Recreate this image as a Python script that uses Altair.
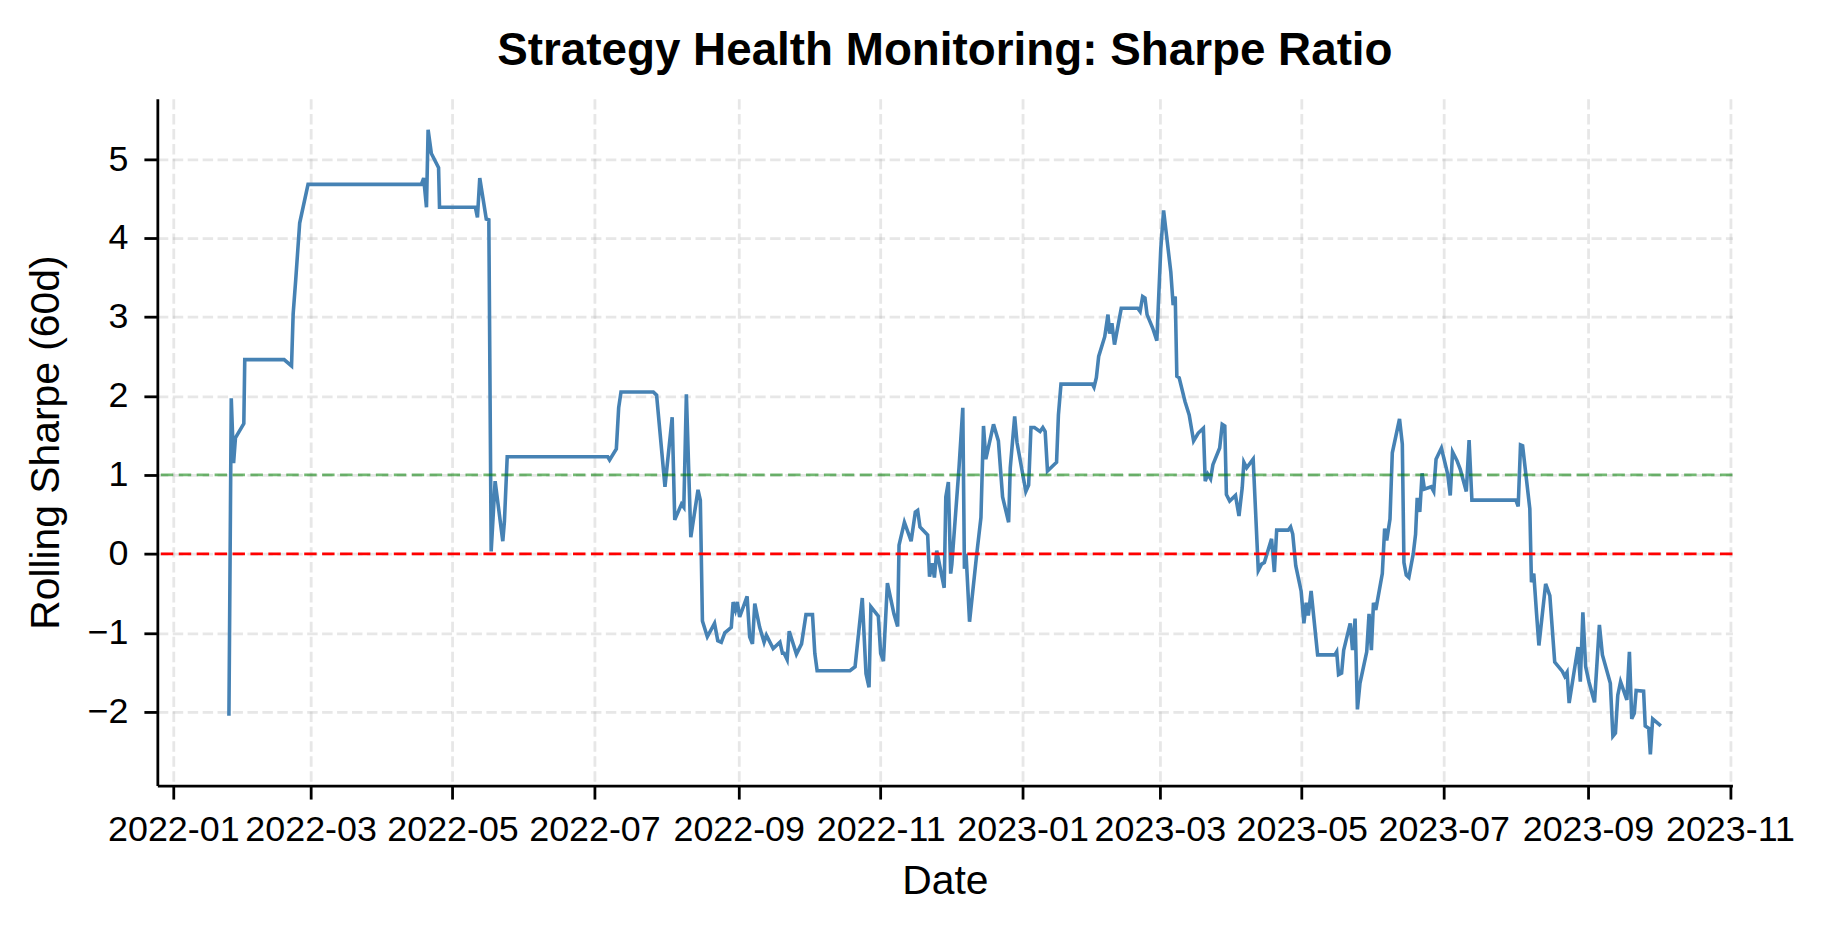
import altair as alt
import pandas as pd

# ---- data (days since 2022-01-01, rolling Sharpe) ----
day_offset = [
    23.9, 24.9, 25.9, 26.7, 30.3, 30.7, 47.6, 50.8, 51.5, 52.6, 54.3, 57.9,
    106.6, 107.6, 108.8, 109.5, 110.9, 114.0, 114.4,
    129.8, 130.7, 131.7, 134.5, 135.6, 136.6, 138.3, 141.6, 142.3, 143.5,
    186.7, 187.5, 190.4, 191.4, 192.4, 206.3, 207.7, 211.3, 214.4, 215.5,
    218.4, 219.4, 220.5, 222.4, 225.5, 226.5, 227.4, 229.5, 232.6,
    234.0, 235.5, 237.0, 239.8, 240.6, 241.6, 242.4, 243.4, 246.6, 247.7,
    248.9, 249.9, 252.0, 253.9, 254.9, 257.8, 260.7, 261.8, 262.5, 263.8,
    264.7, 267.8, 270.0, 271.9, 274.7, 275.7, 276.7, 290.8, 293.0, 296.1,
    297.7, 299.0, 299.8, 303.0, 304.0, 305.2, 306.9, 309.7, 311.3, 311.9,
    314.2, 317.1, 318.9, 319.9, 320.9, 324.2, 325.0, 326.1, 327.1, 328.1,
    331.3, 332.0, 333.1, 334.1, 334.6, 337.7, 339.3, 340.0, 340.7, 342.2,
    345.3, 347.1, 348.2, 349.2, 352.5, 354.6, 356.4, 359.0, 359.7,
    361.6, 362.6, 366.4, 367.6, 368.6, 370.1, 372.5, 373.7, 374.7, 375.7,
    379.6, 380.4, 381.5, 395.0, 395.7, 396.7, 397.7, 400.3, 401.7, 402.4,
    403.4, 404.5, 407.4, 414.5, 415.5, 416.6, 417.6, 418.5, 420.9, 422.7,
    423.4, 424.4, 425.6, 428.7, 429.7, 430.6, 431.3, 432.3, 434.8, 436.6,
    438.5, 440.5, 442.7, 443.5, 444.6, 445.8, 446.8, 449.7, 450.8, 451.9,
    452.6, 454.0, 456.5, 458.0, 459.4, 460.1, 461.3, 464.1, 466.3, 467.7,
    468.9, 472.0, 473.2, 474.2, 479.2, 480.2, 481.1, 482.4, 484.7, 485.9,
    486.9, 487.8, 489.0,
    491.8, 499.2, 500.0, 500.8, 502.1, 503.0, 505.8, 506.8, 507.9, 508.9,
    510.0, 512.9, 513.9, 514.9, 515.8, 516.8, 519.6, 520.6, 521.5, 522.9,
    523.9, 527.0, 528.2, 528.9, 529.9, 531.0, 532.9, 533.9, 534.6, 535.7,
    536.7, 537.7, 540.6, 541.7, 542.7, 545.0, 547.7, 548.8, 549.8, 551.7,
    553.1, 555.7, 556.9, 558.1, 577.0, 578.0, 579.0, 579.9, 583.0, 583.7,
    584.7, 585.9, 586.9, 589.8, 591.6, 593.7, 597.0, 598.0, 599.0, 599.9,
    603.7, 604.7, 605.8, 607.0, 608.4, 610.8, 612.9, 614.2, 617.6, 618.7,
    619.8, 620.8, 622.0, 624.7, 625.8, 626.8, 627.9, 628.7, 631.9, 632.6,
    634.1, 634.8, 635.8, 639.3,
]
sharpe = [
    -2.05, 1.97, 1.15, 1.47, 1.65, 2.46, 2.46, 2.38, 3.04, 3.47, 4.19, 4.68,
    4.68, 4.76, 4.39, 5.37, 5.07, 4.89, 4.39,
    4.39, 4.26, 4.76, 4.24, 4.23, 0.03, 0.92, 0.16, 0.41, 1.23,
    1.23, 1.19, 1.33, 1.85, 2.05, 2.05, 2.01, 0.85, 1.73, 0.43,
    0.63, 0.59, 2.02, 0.21, 0.81, 0.68, -0.85, -1.05, -0.88,
    -1.10, -1.12, -1.00, -0.93, -0.61, -0.71, -0.61, -0.80, -0.54, -1.05,
    -1.14, -0.63, -0.93, -1.12, -1.03, -1.20, -1.12, -1.26, -1.26, -1.34,
    -0.98, -1.27, -1.14, -0.77, -0.77, -1.26, -1.48, -1.48, -1.43, -0.56,
    -1.52, -1.69, -0.67, -0.79, -1.26, -1.36, -0.37, -0.76, -0.92, 0.11,
    0.40, 0.16, 0.53, 0.55, 0.34, 0.24, -0.29, -0.12, -0.30, 0.04,
    -0.43, 0.72, 0.91, -0.25, -0.13, 1.10, 1.85, -0.19, 0.00, -0.86,
    0.00, 0.46, 1.62, 1.20, 1.64, 1.43, 0.72, 0.40, 1.09,
    1.74, 1.41, 0.79, 0.87, 1.60, 1.60, 1.55, 1.60, 1.55, 1.05,
    1.16, 1.76, 2.15, 2.15, 2.11, 2.23, 2.50, 2.75, 3.03, 2.79,
    2.92, 2.65, 3.11, 3.11, 3.07, 3.26, 3.24, 3.03, 2.86, 2.70,
    3.19, 3.87, 4.35, 3.57, 3.15, 3.26, 2.25, 2.23, 1.93, 1.76,
    1.43, 1.53, 1.59, 0.92, 1.01, 0.95, 1.13, 1.34, 1.64, 1.62,
    0.75, 0.67, 0.74, 0.48, 0.84, 1.16, 1.09, 1.20, -0.21, -0.13,
    -0.11, 0.19, -0.23, 0.30, 0.30, 0.34, 0.25, -0.15, -0.47, -0.88,
    -0.62, -0.78, -0.47,
    -1.28, -1.28, -1.24, -1.53, -1.51, -1.22, -0.88, -1.22, -0.82, -1.97,
    -1.64, -1.24, -0.76, -1.22, -0.62, -0.71, -0.25, 0.32, 0.17, 0.44,
    1.28, 1.71, 1.39, -0.11, -0.27, -0.30, 0.00, 0.25, 0.71, 0.53,
    1.02, 0.82, 0.85, 0.79, 1.20, 1.34, 1.01, 0.74, 1.29, 1.18,
    1.07, 0.79, 1.44, 0.68, 0.68, 0.60, 1.38, 1.37, 0.57, -0.36,
    -0.25, -0.76, -1.16, -0.38, -0.53, -1.37, -1.49, -1.55, -1.50, -1.89,
    -1.18, -1.62, -0.74, -1.43, -1.62, -1.88, -0.90, -1.28, -1.64, -2.31,
    -2.27, -1.79, -1.62, -1.85, -1.24, -2.09, -2.02, -1.73, -1.74, -2.18,
    -2.21, -2.54, -2.09, -2.18,
]

ref_levels = [0, 1]
ref_colors = ["#ff0000", "#008000"]
ref_opacity = [1.0, 0.55]

tick_labels = ["2022-01", "2022-03", "2022-05", "2022-07", "2022-09", "2022-11",
               "2023-01", "2023-03", "2023-05", "2023-07", "2023-09", "2023-11"]
y_ticks = [-2, -1, 0, 1, 2, 3, 4, 5]

FONT = "Liberation Sans"

BASE = pd.Timestamp("2022-01-01")
df = pd.DataFrame({
    "date": [BASE + pd.Timedelta(days=d) for d in day_offset],
    "sharpe": sharpe,
})
ref_df = pd.DataFrame({"level": ref_levels, "color": ref_colors, "op": ref_opacity})

# matplotlib-like 5% margins
span = max(day_offset) - min(day_offset)
t0 = BASE + pd.Timedelta(days=min(day_offset) - 0.05 * span)
t1 = BASE + pd.Timedelta(days=max(day_offset) + 0.05 * span)
def dt(t):
    return alt.DateTime(year=t.year, month=t.month, date=t.day, hours=t.hour, minutes=t.minute)
yspan = max(sharpe) - min(sharpe)
ydom = [min(sharpe) - 0.05 * yspan, max(sharpe) + 0.05 * yspan]

tick_vals = [alt.DateTime(year=int(s[:4]), month=int(s[5:]), date=1) for s in tick_labels]

x_enc = alt.X(
    "date:T", title="Date",
    scale=alt.Scale(domain=[dt(t0), dt(t1)]),
    axis=alt.Axis(values=tick_vals, format="%Y-%m", labelOverlap=False, labelFlush=False,
                  labelPadding=14, titlePadding=14),
)
y_enc = alt.Y(
    "sharpe:Q", title="Rolling Sharpe (60d)",
    scale=alt.Scale(domain=ydom, nice=False, zero=False),
    axis=alt.Axis(values=y_ticks, format="d", labelPadding=16, titlePadding=20),
)

line = alt.Chart(df).mark_line(color="#4682b4", strokeWidth=3.6).encode(x=x_enc, y=y_enc)

rules = alt.Chart(ref_df).mark_rule(strokeDash=[12.5, 5.5], strokeWidth=2.8).encode(
    y="level:Q",
    color=alt.Color("color:N", scale=None),
    opacity=alt.Opacity("op:Q", scale=None),
)

chart = (
    alt.layer(line, rules)
    .properties(
        width=1582, height=690,
        autosize=alt.AutoSizeParams(type="none"),
        padding={"left": 150, "top": 89, "right": 94, "bottom": 147},
        title=alt.TitleParams("Strategy Health Monitoring: Sharpe Ratio", offset=24),
    )
    .configure_view(stroke=None)
    .configure_axis(
        domainColor="black", domainWidth=2.8,
        tickColor="black", tickWidth=2.8, tickSize=13.5,
        labelFont=FONT, labelFontSize=36, labelColor="black",
        titleFont=FONT, titleFontSize=41, titleFontWeight="normal", titleColor="black",
        grid=True, gridColor="#b0b0b0", gridOpacity=0.3, gridWidth=2.8, gridDash=[10.5, 4.5],
    )
    .configure_title(font=FONT, fontSize=46, fontWeight="bold", color="black", anchor="middle")
)

chart.save("out.html", embed_options={"renderer": "svg", "actions": False})
